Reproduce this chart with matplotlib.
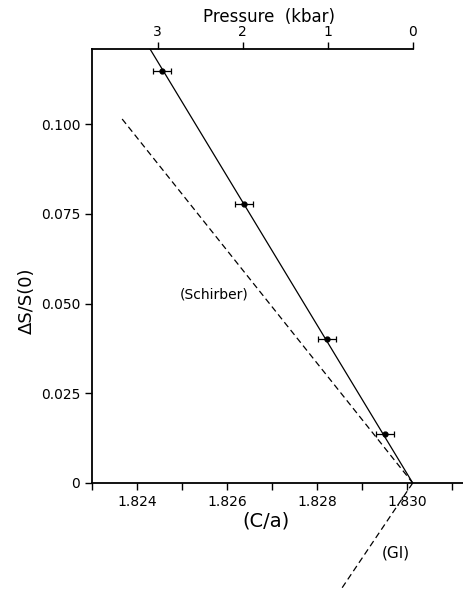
import matplotlib
matplotlib.use("Agg")
import matplotlib.pyplot as plt

# --- data ---
ca_points = [1.82455, 1.82638, 1.82823, 1.82952]
ds_points = [0.1148, 0.0777, 0.0400, 0.01365]
ca_err = [0.0002, 0.0002, 0.0002, 0.0002]

fit_ca = [1.82429, 1.83013]
fit_ds = [0.1209, 0.0]

schirber_ca = [1.82367, 1.83013]
schirber_ds = [0.1014, 0.0]

gi_ca = [1.83013, 1.82849]
gi_ds = [0.0, -0.0305]

xticks_major = [1.824, 1.826, 1.828, 1.830]
xtick_labels = ["1.824", "1.826", "1.828", "1.830"]
xticks_all = [1.823, 1.824, 1.825, 1.826, 1.827, 1.828, 1.829, 1.830, 1.831]
yticks = [0.0, 0.025, 0.050, 0.075, 0.100]
ytick_labels = ["0", "0.025", "0.050", "0.075", "0.100"]
pressure_ticks = [3, 2, 1, 0]
ca_at_zero_pressure = 1.83013
ca_per_kbar = 0.001889

xmin, xmax = 1.823, 1.83127
ymin, ymax = 0.0, 0.1209

plt.rcParams['font.family'] = ['DejaVu Sans']

fig = plt.figure(figsize=(4.64, 5.9), dpi=100)
ax = fig.add_axes([92/464, 1 - 483/590, 1 - 92/464, (483 - 49)/590])

ax.set_xlim(xmin, xmax)
ax.set_ylim(ymin, ymax)

ax.plot(fit_ca, fit_ds, color='black', lw=0.9)
ax.plot(schirber_ca, schirber_ds, color='black', lw=0.9, dashes=(5, 3))
ax.plot(gi_ca, gi_ds, color='black', lw=0.9, dashes=(5, 3), clip_on=False)
ax.errorbar(ca_points, ds_points, xerr=ca_err, fmt='o', ms=3.5, color='black',
            ecolor='black', elinewidth=0.9, capsize=2.5, capthick=0.9)

ax.spines['right'].set_visible(False)
ax.spines['top'].set_visible(False)
for s in ['left', 'bottom']:
    ax.spines[s].set_linewidth(1.3)

ax.set_xticks(xticks_all)
ax.set_xticklabels([next((l for m, l in zip(xticks_major, xtick_labels) if abs(t - m) < 1e-9), "")
                    for t in xticks_all])
ax.set_yticks(yticks)
ax.set_yticklabels(ytick_labels)
ax.tick_params(axis='both', direction='out', length=5, width=1.0, labelsize=10)

ax.set_xlabel("(C/a)", fontsize=14)
ax.xaxis.set_label_coords(0.468, -0.065)
ax.set_ylabel("ΔS/S(0)", fontsize=13)
ax.yaxis.set_label_coords(-0.15, 0.42)

# top pressure axis
p_left = (ca_at_zero_pressure - xmin) / ca_per_kbar
p_right = (ca_at_zero_pressure - xmax) / ca_per_kbar
tw = ax.twiny()
tw.set_xlim(p_left, p_right)
tw.set_xticks(pressure_ticks)
tw.set_xticklabels([str(p) for p in pressure_ticks])
tw.spines['top'].set_bounds(0, p_left)
tw.spines['top'].set_linewidth(1.3)
for s in ['right', 'left', 'bottom']:
    tw.spines[s].set_visible(False)
tw.tick_params(axis='x', direction='out', length=5, width=1.0, labelsize=10, pad=2)
tw.set_xlabel("Pressure  (kbar)", fontsize=12)
tw.xaxis.set_label_coords(0.476, 1.062)

ax.text(1.82571, 0.0526, "(Schirber)", fontsize=10, ha='center', va='center')
ax.text(1.82976, -0.0195, "(GI)", fontsize=11, ha='center', va='center', clip_on=False)

fig.savefig("out.png", dpi=100)
